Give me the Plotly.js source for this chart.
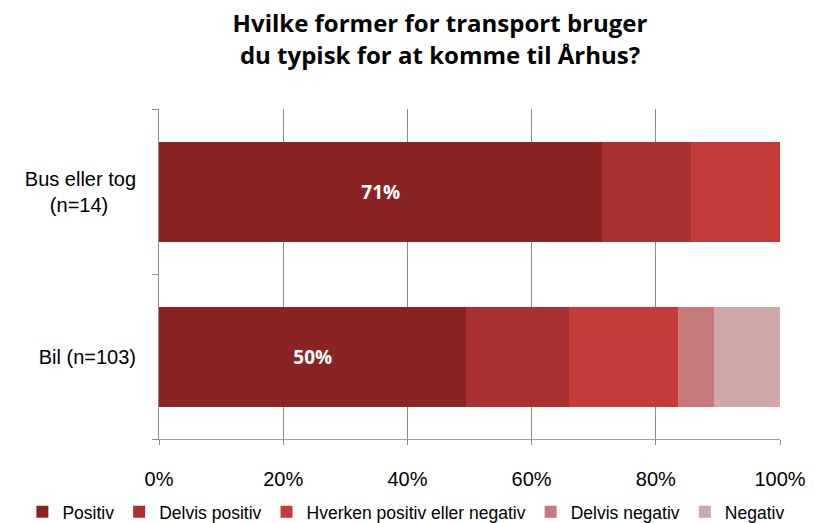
<!DOCTYPE html>
<html>
<head>
<meta charset="utf-8">
<script src="https://cdn.plot.ly/plotly-3.0.1.min.js"></script>
<style>html,body{margin:0;padding:0;background:#fff;}#chart{width:824px;height:523px;}</style>
</head>
<body>
<div id="chart"></div>
<script>
const categories = ['Bus eller tog (n=14)', 'Bil (n=103)'];
const categoryLabels = ['Bus eller tog<br>(n=14)\u00a0\u00a0\u00a0\u00a0\u00a0', 'Bil (n=103)'];
const seriesNames = ['Positiv', 'Delvis positiv', 'Hverken positiv eller negativ', 'Delvis negativ', 'Negativ'];
const positiv = [71.4, 49.5];
const delvisPositiv = [14.3, 16.5];
const hverken = [14.3, 17.5];
const delvisNegativ = [0, 5.8];
const negativ = [0, 10.7];
const xTicks = [0, 20, 40, 60, 80, 100];
const xTickLabels = ['0%', '20%', '40%', '60%', '80%', '100%'];

const colors = ['#8a2424', '#a93131', '#c53b39', '#c67a7a', '#d0a8a8'];
const values = [positiv, delvisPositiv, hverken, delvisNegativ, negativ];

const sans = '"Liberation Sans", Arial, sans-serif';

const traces = values.map((v, i) => ({
  type: 'bar',
  orientation: 'h',
  name: seriesNames[i],
  y: categories,
  x: v,
  width: 0.606,
  marker: {color: colors[i], line: {width: 0}},
  text: i === 0 ? v.map(d => Math.round(d) + '%') : null,
  textposition: i === 0 ? 'inside' : 'none',
  insidetextanchor: 'middle',
  textfont: {family: '"Open Sans", sans-serif', size: 19, color: '#ffffff', weight: 'bold'},
  hoverinfo: 'none'
}));

const layout = {
  width: 824, height: 523,
  barmode: 'stack',
  margin: {l: 159, r: 44, t: 109, b: 84, autoexpand: false},
  paper_bgcolor: '#ffffff', plot_bgcolor: '#ffffff',
  title: {
    text: '<b>Hvilke former for transport bruger<br>du typisk for at komme til Århus?</b>',
    font: {family: '"Open Sans", sans-serif', size: 24, color: '#000000'},
    x: 0.534, xanchor: 'center', y: 0.938, yanchor: 'middle', xref: 'container', yref: 'container'
  },
  xaxis: {
    range: [0, 100], tickvals: xTicks, ticktext: xTickLabels,
    showgrid: true, gridcolor: '#8c8c8c', gridwidth: 1,
    zeroline: false, showline: true, linecolor: '#a0a0a0', linewidth: 1,
    ticks: 'outside', ticklen: 5, tickcolor: '#8c8c8c',
    ticklabelstandoff: 17,
    tickfont: {family: sans, size: 20, color: '#000000'},
    fixedrange: true, automargin: false
  },
  yaxis: {
    autorange: 'reversed', type: 'category',
    tickvals: categories, ticktext: categoryLabels,
    showline: true, linecolor: '#8c8c8c', linewidth: 1,
    ticks: 'outside', ticklen: 6, tickcolor: '#8c8c8c', tickson: 'boundaries',
    showgrid: false, ticklabelstandoff: 18,
    tickfont: {family: sans, size: 20, color: '#000000'},
    fixedrange: true, automargin: false
  },
  showlegend: true,
  legend: {
    orientation: 'h', xref: 'paper', x: -0.22, xanchor: 'left',
    yref: 'paper', y: -0.221, yanchor: 'middle',
    font: {family: sans, size: 17.5, color: '#000000'},
    itemwidth: 30, traceorder: 'normal', tracegroupgap: 0, borderwidth: 0,
    bgcolor: 'rgba(0,0,0,0)'
  }
};

Plotly.newPlot('chart', traces, layout, {displayModeBar: false, staticPlot: true});
</script>
</body>
</html>
